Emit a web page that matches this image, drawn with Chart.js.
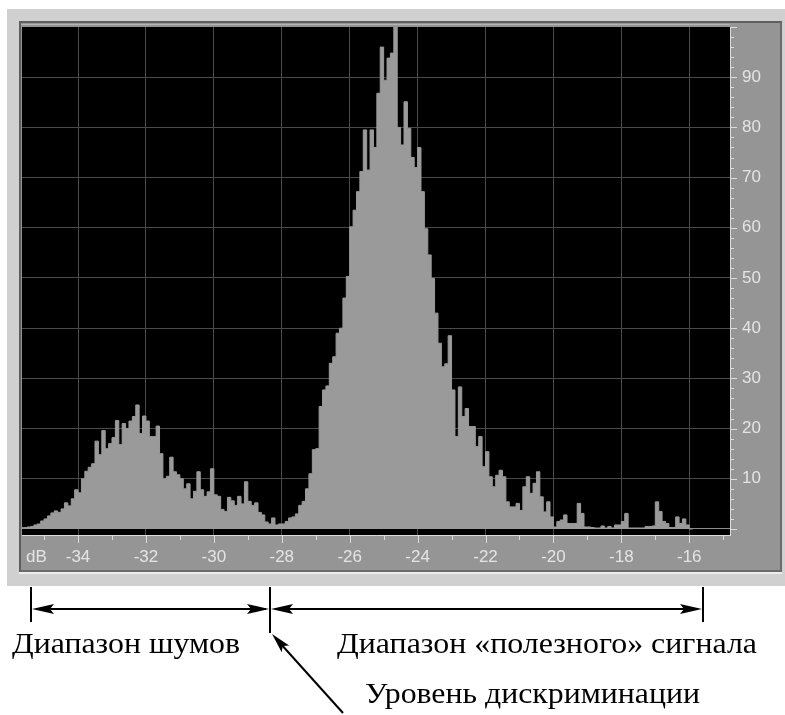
<!DOCTYPE html>
<html>
<head>
<meta charset="utf-8">
<title>Гистограмма</title>
<script src="https://cdn.jsdelivr.net/npm/chart.js"></script>
<style>
    body { margin: 0; background: #fff; }
    #wrap { position: relative; width: 785px; height: 715px; overflow: hidden; }
    .marco { position: absolute; left: 7px; top: 9px; width: 778px; height: 577px; background: #d0d0d0; }
    .panel { position: absolute; left: 19px; top: 21px; width: 763px; height: 551px; background: #959595;
             box-sizing: border-box; border: 2px solid #5e5e5e; border-right-color: #6a6a6a; border-bottom-color: #6a6a6a; }
    .luz { position: absolute; left: 21px; top: 24px; width: 709px; height: 1px; background: #b6b6b6; }
    .bajo { position: absolute; left: 19px; top: 572px; width: 763px; height: 2px; background: #ececec; }
    canvas, svg { position: absolute; left: 0; top: 0; }
</style>
</head>
<body>
<div id="wrap">
    <div class="marco"></div>
    <div class="panel"></div>
    <div class="luz"></div>
    <div class="bajo"></div>
    <canvas id="histograma" width="785" height="715"></canvas>
    <svg width="785" height="715" viewBox="0 0 785 715">
        <g stroke="#000" stroke-width="2" fill="none">
            <line x1="31" y1="587" x2="31" y2="622"/>
            <line x1="270" y1="587" x2="270" y2="633"/>
            <line x1="703" y1="587" x2="703" y2="622"/>
            <line x1="36" y1="609" x2="266" y2="609"/>
            <line x1="275" y1="609" x2="698" y2="609"/>
            <line x1="343" y1="713" x2="280" y2="643"/>
        </g>
        <g fill="#000">
            <polygon points="32,609 54,604 50,609 54,614"/>
            <polygon points="269,609 247,604 251,609 247,614"/>
            <polygon points="271,609 293,604 289,609 293,614"/>
            <polygon points="702,609 680,604 684,609 680,614"/>
            <polygon points="272,634 289.1,645.6 282.7,645.9 281.7,652.2"/>
        </g>
        <g font-family="'Liberation Serif', 'Times New Roman', serif" font-size="30" fill="#000">
            <text x="12" y="653" textLength="228" lengthAdjust="spacingAndGlyphs">Диапазон шумов</text>
            <text x="337" y="653" textLength="420" lengthAdjust="spacingAndGlyphs">Диапазон «полезного» сигнала</text>
            <text x="365" y="703" textLength="335" lengthAdjust="spacingAndGlyphs">Уровень дискриминации</text>
        </g>
    </svg>
</div>
<script>
// уровни, дБ (начало интервала)
var db = [
    -35.7, -35.6, -35.5, -35.4, -35.3, -35.2, -35.1, -35.0, -34.9, -34.8,
    -34.7, -34.6, -34.5, -34.4, -34.3, -34.2, -34.1, -34.0, -33.9, -33.8,
    -33.7, -33.6, -33.5, -33.4, -33.3, -33.2, -33.1, -33.0, -32.9, -32.8,
    -32.7, -32.6, -32.5, -32.4, -32.3, -32.2, -32.1, -32.0, -31.9, -31.8,
    -31.7, -31.6, -31.5, -31.4, -31.3, -31.2, -31.1, -31.0, -30.9, -30.8,
    -30.7, -30.6, -30.5, -30.4, -30.3, -30.2, -30.1, -30.0, -29.9, -29.8,
    -29.7, -29.6, -29.5, -29.4, -29.3, -29.2, -29.1, -29.0, -28.9, -28.8,
    -28.7, -28.6, -28.5, -28.4, -28.3, -28.2, -28.1, -28.0, -27.9, -27.8,
    -27.7, -27.6, -27.5, -27.4, -27.3, -27.2, -27.1, -27.0, -26.9, -26.8,
    -26.7, -26.6, -26.5, -26.4, -26.3, -26.2, -26.1, -26.0, -25.9, -25.8,
    -25.7, -25.6, -25.5, -25.4, -25.3, -25.2, -25.1, -25.0, -24.9, -24.8,
    -24.7, -24.6, -24.5, -24.4, -24.3, -24.2, -24.1, -24.0, -23.9, -23.8,
    -23.7, -23.6, -23.5, -23.4, -23.3, -23.2, -23.1, -23.0, -22.9, -22.8,
    -22.7, -22.6, -22.5, -22.4, -22.3, -22.2, -22.1, -22.0, -21.9, -21.8,
    -21.7, -21.6, -21.5, -21.4, -21.3, -21.2, -21.1, -21.0, -20.9, -20.8,
    -20.7, -20.6, -20.5, -20.4, -20.3, -20.2, -20.1, -20.0, -19.9, -19.8,
    -19.7, -19.6, -19.5, -19.4, -19.3, -19.2, -19.1, -19.0, -18.9, -18.8,
    -18.7, -18.6, -18.5, -18.4, -18.3, -18.2, -18.1, -18.0, -17.9, -17.8,
    -17.7, -17.6, -17.5, -17.4, -17.3, -17.2, -17.1, -17.0, -16.9, -16.8,
    -16.7, -16.6, -16.5, -16.4, -16.3, -16.2, -16.1, -16.0, -15.9
];

// число отсчётов в интервале
var counts = [
    0.3, 0.3, 0.3, 0.4, 0.5, 0.8, 1.0, 1.6, 2.0, 2.6,
    3.2, 3.6, 3.3, 4.0, 5.2, 4.6, 6.0, 7.8, 7.2, 10.0,
    11.5, 12.3, 13.0, 17.5, 14.8, 19.6, 16.0, 17.0, 18.2, 21.6,
    16.8, 21.0, 20.0, 21.5, 22.4, 24.7, 19.0, 22.5, 21.5, 18.4,
    18.4, 20.5, 15.0, 10.0, 10.5, 14.3, 11.4, 10.8, 10.0, 8.0,
    9.0, 6.0, 7.5, 11.4, 7.8, 6.5, 7.4, 12.0, 6.8, 6.5,
    3.9, 3.5, 6.3, 5.6, 4.7, 6.5, 5.0, 9.4, 5.5, 4.7,
    5.2, 3.3, 2.8, 1.4, 1.0, 2.2, 0.8, 1.0, 1.0, 1.5,
    2.2, 2.4, 3.0, 4.7, 5.5, 8.0, 11.0, 15.8, 16.0, 24.4,
    27.7, 28.5, 33.0, 34.3, 39.0, 40.0, 46.0, 50.3, 60.2, 63.5,
    67.2, 71.2, 79.5, 71.5, 79.5, 76.0, 86.8, 96.0, 89.4, 93.8,
    94.8, 100, 80.0, 76.5, 85.1, 79.8, 74.0, 72.0, 76.0, 67.2,
    59.8, 54.6, 49.9, 43.0, 37.0, 32.3, 32.9, 38.5, 27.7, 18.4,
    28.3, 22.4, 24.0, 20.4, 20.4, 16.4, 18.4, 12.4, 15.4, 10.4,
    8.4, 10.7, 11.7, 10.4, 5.4, 4.4, 4.4, 5.1, 3.7, 8.4,
    10.4, 7.1, 9.1, 11.4, 6.4, 3.4, 5.4, 2.4, 0.4, 1.5,
    1.8, 2.8, 1.1, 1.1, 1.1, 5.1, 3.1, 0.4, 0.4, 0.3,
    0.2, 0.2, 0.6, 0.2, 0.5, 0.2, 0.8, 0.8, 1.5, 3.1,
    0.2, 0.2, 0.2, 0.2, 0.2, 0.5, 0.5, 0.6, 5.4, 3.5,
    1.5, 1.1, 0.3, 0.3, 2.4, 1.1, 2.0, 0.8, 0
];

var xTicks = [-34, -32, -30, -28, -26, -24, -22, -20, -18, -16];
var yTicks = [0, 10, 20, 30, 40, 50, 60, 70, 80, 90];

document.addEventListener("DOMContentLoaded", function () {

    // fondo negro del area y marcas de escala
    var fondo = {
        id: 'fondo',
        beforeDraw: function (chart) {
            var a = chart.chartArea, c = chart.ctx;
            c.save();
            c.fillStyle = '#000';
            c.fillRect(a.left, a.top, a.right - a.left, a.bottom - a.top);
            c.restore();
        },
        afterDraw: function (chart) {
            var a = chart.chartArea, c = chart.ctx;
            var sx = chart.scales.x, sy = chart.scales.y;
            c.save();
            c.strokeStyle = '#dcdcdc';
            c.lineWidth = 1;
            c.beginPath();
            for (var v = -35; v <= -15; v++) {
                var px = Math.round(sx.getPixelForValue(v)) + 0.5;
                c.moveTo(px, a.bottom);
                c.lineTo(px, a.bottom + (v % 2 === 0 ? 8 : 5));
            }
            for (var w = 0; w <= 100; w += 2) {
                var py = Math.round(sy.getPixelForValue(w)) + 0.5;
                c.moveTo(a.right, py);
                c.lineTo(a.right + (w % 10 === 0 ? 7 : 4), py);
            }
            c.stroke();
            c.fillStyle = '#e4e4e4';
            c.font = '17px "Liberation Sans"';
            c.textBaseline = 'middle';
            c.fillText('dB', 26, 557);
            c.restore();
        }
    };

    var ctx = document.getElementById("histograma").getContext("2d");
    var myChart = new Chart(ctx, {
        type: 'line',
        data: {
            datasets: [{
                data: db.map(function (x, i) { return { x: x, y: counts[i] }; }),
                stepped: 'after',
                fill: 'origin',
                backgroundColor: '#9a9a9a',
                borderColor: '#9a9a9a',
                borderWidth: 1,
                pointRadius: 0
            }]
        },
        options: {
            responsive: false,
            animation: false,
            layout: { padding: { left: 22, top: 27, right: 0, bottom: 144 } },
            plugins: { legend: { display: false }, tooltip: { enabled: false } },
            scales: {
                x: {
                    type: 'linear',
                    min: -35.65,
                    max: -14.8,
                    afterFit: function (scale) { scale.height = 36; },
                    afterBuildTicks: function (scale) {
                        scale.ticks = xTicks.map(function (v) { return { value: v }; });
                    },
                    grid: { color: '#4a4a4a', drawTicks: false },
                    border: { color: '#dcdcdc' },
                    ticks: {
                        color: '#e4e4e4',
                        font: { family: 'Liberation Sans', size: 17 },
                        padding: 12,
                        maxRotation: 0,
                        callback: function (v) { return String(v); }
                    }
                },
                y: {
                    position: 'right',
                    min: -1.2,
                    max: 100,
                    afterFit: function (scale) { scale.width = 55; },
                    afterBuildTicks: function (scale) {
                        scale.ticks = yTicks.map(function (v) { return { value: v }; });
                    },
                    grid: {
                        drawTicks: false,
                        color: function (c) { return c.tick && c.tick.value === 0 ? '#8c8c8c' : '#4a4a4a'; }
                    },
                    border: { color: '#dcdcdc' },
                    ticks: {
                        color: '#e4e4e4',
                        font: { family: 'Liberation Sans', size: 17 },
                        padding: 12,
                        callback: function (v) { return v === 0 ? '' : String(v); }
                    }
                }
            }
        },
        plugins: [fondo]
    });
});
</script>
</body>
</html>
